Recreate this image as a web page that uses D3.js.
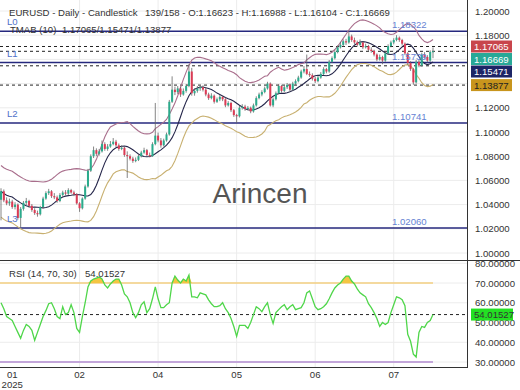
<!DOCTYPE html>
<html>
<head>
<meta charset="utf-8">
<script src="https://cdn.jsdelivr.net/npm/d3@7"></script>
<style>
body{margin:0;background:#fff;}
svg{display:block;font-family:"Liberation Sans",Arial,sans-serif;}
</style>
</head>
<body>
<div id="chart"></div>
<script>
// daily EURUSD candles
const openP = [1.0440,1.0510,1.0435,1.0410,1.0425,1.0380,1.0400,1.0290,1.0365,1.0415,
1.0430,1.0390,1.0355,1.0330,1.0320,1.0380,1.0450,1.0495,1.0510,1.0470,
1.0460,1.0430,1.0480,1.0500,1.0490,1.0520,1.0500,1.0485,1.0410,1.0370,
1.0450,1.0550,1.0680,1.0800,1.0850,1.0820,1.0840,1.0900,1.0860,1.0880,
1.0900,1.0920,1.0890,1.0860,1.0870,1.0810,1.0800,1.0780,1.0760,1.0770,
1.0800,1.0830,1.0850,1.0810,1.0800,1.0900,1.0970,1.0930,1.0890,1.0930,
1.0980,1.1250,1.1350,1.1330,1.1360,1.1310,1.1340,1.1380,1.1500,1.1320,
1.1340,1.1360,1.1370,1.1350,1.1310,1.1280,1.1300,1.1250,1.1270,1.1290,
1.1270,1.1220,1.1240,1.1180,1.1140,1.1130,1.1200,1.1210,1.1190,1.1200,
1.1170,1.1220,1.1280,1.1310,1.1330,1.1360,1.1400,1.1220,1.1270,1.1320,
1.1380,1.1340,1.1370,1.1390,1.1350,1.1400,1.1420,1.1450,1.1500,1.1520,
1.1480,1.1470,1.1440,1.1420,1.1450,1.1480,1.1520,1.1500,1.1580,1.1610,
1.1660,1.1700,1.1720,1.1750,1.1740,1.1790,1.1760,1.1740,1.1720,1.1740,
1.1700,1.1710,1.1680,1.1670,1.1640,1.1600,1.1620,1.1590,1.1650,1.1710,
1.1740,1.1760,1.1780,1.1760,1.1730,1.1650,1.1570,1.1520,1.1410,1.1580,
1.1550,1.1640,1.1620,1.1590,1.16623];
const highP = [1.0535,1.0525,1.0460,1.0450,1.0440,1.0420,1.0410,1.0380,1.0430,1.0455,
1.0440,1.0405,1.0370,1.0350,1.0390,1.0465,1.0510,1.0530,1.0520,1.0495,
1.0475,1.0495,1.0515,1.0520,1.0535,1.0530,1.0515,1.0495,1.0420,1.0460,
1.0565,1.0695,1.0815,1.0880,1.0865,1.0860,1.0930,1.0915,1.0900,1.0925,
1.0950,1.0935,1.0905,1.0890,1.0880,1.0840,1.0815,1.0795,1.0790,1.0815,
1.0845,1.0870,1.0860,1.0830,1.0915,1.1240,1.0995,1.0950,1.0945,1.0995,
1.1265,1.1460,1.1375,1.1380,1.1375,1.1360,1.1395,1.1560,1.1530,1.1360,
1.1380,1.1385,1.1385,1.1365,1.1325,1.1320,1.1310,1.1285,1.1305,1.1300,
1.1280,1.1255,1.1250,1.1190,1.1150,1.1215,1.1230,1.1225,1.1215,1.1210,
1.1235,1.1295,1.1325,1.1345,1.1375,1.1415,1.1410,1.1285,1.1335,1.1395,
1.1390,1.1385,1.1405,1.1400,1.1415,1.1435,1.1465,1.1515,1.1545,1.1640,
1.1500,1.1485,1.1455,1.1465,1.1495,1.1535,1.1530,1.1595,1.1625,1.1675,
1.1715,1.1745,1.1765,1.1770,1.1832,1.1805,1.1780,1.1755,1.1765,1.1750,
1.1730,1.1720,1.1700,1.1680,1.1650,1.1640,1.1630,1.1665,1.1725,1.1755,
1.1775,1.1800,1.1790,1.1770,1.1740,1.1660,1.1585,1.1530,1.1595,1.1600,
1.1655,1.1660,1.1635,1.1675,1.16988];
const lowP = [1.0270,1.0420,1.0395,1.0390,1.0365,1.0360,1.0275,1.0212,1.0350,1.0395,
1.0375,1.0340,1.0315,1.0300,1.0310,1.0370,1.0440,1.0480,1.0455,1.0445,
1.0415,1.0420,1.0465,1.0475,1.0480,1.0490,1.0470,1.0400,1.0340,1.0360,
1.0440,1.0540,1.0670,1.0785,1.0800,1.0805,1.0830,1.0845,1.0845,1.0870,
1.0890,1.0875,1.0845,1.0850,1.0795,1.0620,1.0765,1.0745,1.0750,1.0760,
1.0790,1.0820,1.0800,1.0790,1.0795,1.0890,1.0915,1.0870,1.0880,1.0920,
1.0970,1.1240,1.1305,1.1315,1.1290,1.1300,1.1325,1.1370,1.1300,1.1300,
1.1325,1.1340,1.1335,1.1295,1.1265,1.1270,1.1235,1.1240,1.1255,1.1255,
1.1205,1.1210,1.1165,1.1125,1.1074,1.1120,1.1185,1.1175,1.1180,1.1155,
1.1160,1.1210,1.1270,1.1295,1.1320,1.1350,1.1210,1.1205,1.1260,1.1310,
1.1325,1.1330,1.1355,1.1335,1.1340,1.1385,1.1410,1.1440,1.1485,1.1470,
1.1455,1.1425,1.1405,1.1410,1.1440,1.1470,1.1485,1.1490,1.1570,1.1600,
1.1650,1.1690,1.1705,1.1720,1.1730,1.1745,1.1725,1.1705,1.1710,1.1685,
1.1690,1.1665,1.1655,1.1625,1.1585,1.1590,1.1560,1.1580,1.1640,1.1700,
1.1725,1.1750,1.1745,1.1715,1.1635,1.1555,1.1505,1.1390,1.1400,1.1535,
1.1540,1.1605,1.1575,1.1580,1.16104];
const closeP = [1.0510,1.0435,1.0410,1.0425,1.0380,1.0400,1.0290,1.0365,1.0415,1.0430,
1.0390,1.0355,1.0330,1.0320,1.0380,1.0450,1.0495,1.0510,1.0470,1.0460,
1.0430,1.0480,1.0500,1.0490,1.0520,1.0500,1.0485,1.0410,1.0370,1.0450,
1.0550,1.0680,1.0800,1.0850,1.0820,1.0840,1.0900,1.0860,1.0880,1.0900,
1.0920,1.0890,1.0860,1.0870,1.0810,1.0800,1.0780,1.0760,1.0770,1.0800,
1.0830,1.0850,1.0810,1.0800,1.0900,1.0970,1.0930,1.0890,1.0930,1.0980,
1.1250,1.1350,1.1330,1.1360,1.1310,1.1340,1.1380,1.1500,1.1320,1.1340,
1.1360,1.1370,1.1350,1.1310,1.1280,1.1300,1.1250,1.1270,1.1290,1.1270,
1.1220,1.1240,1.1180,1.1140,1.1130,1.1200,1.1210,1.1190,1.1200,1.1170,
1.1220,1.1280,1.1310,1.1330,1.1360,1.1400,1.1220,1.1270,1.1320,1.1380,
1.1340,1.1370,1.1390,1.1350,1.1400,1.1420,1.1450,1.1500,1.1520,1.1480,
1.1470,1.1440,1.1420,1.1450,1.1480,1.1520,1.1500,1.1580,1.1610,1.1660,
1.1700,1.1720,1.1750,1.1740,1.1790,1.1760,1.1740,1.1720,1.1740,1.1700,
1.1710,1.1680,1.1670,1.1640,1.1600,1.1620,1.1590,1.1650,1.1710,1.1740,
1.1760,1.1780,1.1760,1.1730,1.1650,1.1570,1.1520,1.1410,1.1580,1.1550,
1.1640,1.1620,1.1590,1.1662,1.16669];
const rsiValues = [60,57,53,52,51,48,45,42,46,49,
48,46,41,45,49,53,56,59.5,60,57,
53,52,58,54,55,59,55,47,45,53,
60,68,71,72,72.5,73,72,69,67.5,69.5,
71,72,72,69,64.5,63,60,55,52.5,55,
59,60.5,55,57,62,68,62,57.5,57.5,59,
60,70,73.5,71.5,70,72,71,74,63,63,
62.5,65,64.5,64,61.5,59.5,58,58,58.5,60,
57,55,52,48,43,48.5,48.5,48.5,47,50,
54,58,57,55.5,58,60,54,49.5,55,56.5,
58,59,56.5,58,59,56.5,57,57.5,60,65,
66,62,58,56.5,57,58,59.5,62,65,67.5,
69,70,72,73.5,73.5,71,69.5,67,65,64,
63,59.5,57.5,55,52,48,50,49,50,55,
59,63,62.5,61.5,58.5,44,40.5,34,32.5,45,
48,47.5,50,51,54.01527];

const tickBars = [4, 28, 56, 84, 112, 140];
const tickLabels = ["01", "02", "04", "05", "06", "07"];
const priceTicks = [1.00, 1.02, 1.04, 1.06, 1.08, 1.10, 1.12, 1.14, 1.16, 1.18, 1.20];
const rsiTicks = [30, 40, 50, 60, 70, 80];
const levelNames = ["L0", "L1", "L2", "L3"];
const levelValues = [1.18322, 1.15739, 1.10741, 1.02060];
const tmaLast = [1.17065, 1.15471, 1.13877];
const lastClose = 1.16669;
const rsiLast = 54.01527;

const width = 520, height = 390;
const plotRight = 467, mainBottom = 260, rsiBottom = 367;
const N = closeP.length;

const svg = d3.select("#chart").append("svg")
  .attr("width", width).attr("height", height);
svg.append("rect").attr("width", width).attr("height", height).attr("fill", "#fff");

const defs = svg.append("defs");
defs.append("clipPath").attr("id", "mainClip")
  .append("rect").attr("x", 0).attr("y", 0).attr("width", plotRight).attr("height", mainBottom);
defs.append("clipPath").attr("id", "rsiClip")
  .append("rect").attr("x", 0).attr("y", mainBottom).attr("width", plotRight).attr("height", rsiBottom - mainBottom);
defs.append("clipPath").attr("id", "rsiAxisClip")
  .append("rect").attr("x", plotRight).attr("y", mainBottom + 1).attr("width", 60).attr("height", 130);

//scales
const x = d3.scaleBand().domain(d3.range(N)).range([0, 434]).paddingInner(0.28);
const xc = i => x(i) + x.bandwidth() / 2;
const y = d3.scaleLinear().domain([1.00, 1.20]).range([253, 11]);
const yR = d3.scaleLinear().domain([30, 70]).range([362, 283]);

//indicator: TMA (10) with ATR bands
function sma(arr, n) {
  return arr.map((_, i) => d3.mean(arr.slice(Math.max(0, i - n + 1), i + 1)));
}
const mid = sma(sma(closeP, 6), 5);
const tr = closeP.map((c, i) => i === 0 ? highP[0] - lowP[0]
  : Math.max(highP[i], closeP[i - 1]) - Math.min(lowP[i], closeP[i - 1]));
const atrLen = 40;
const atr = tr.map((_, i) => {
  const s = Math.max(0, i - atrLen + 1);
  return d3.mean(tr.slice(s, Math.max(i + 1, atrLen)));
});
const upper = mid.map((m, i) => m + 2.6 * atr[i]);
const lower = mid.map((m, i) => m - 2.6 * atr[i]);

//grid
const grid = svg.append("g").attr("stroke", "#ececec").attr("stroke-width", 1);
grid.selectAll(".hg").data(priceTicks).join("line")
  .attr("x1", 0).attr("x2", plotRight)
  .attr("y1", d => y(d)).attr("y2", d => y(d));
grid.append("g").attr("clip-path", "url(#rsiClip)")
  .selectAll("line").data(rsiTicks).join("line")
  .attr("x1", 0).attr("x2", plotRight)
  .attr("y1", d => yR(d)).attr("y2", d => yR(d));
grid.selectAll(".vg").data(tickBars.slice(1)).join("line")
  .attr("x1", d => xc(d)).attr("x2", d => xc(d))
  .attr("y1", 0).attr("y2", rsiBottom);

//watermark
svg.append("text").attr("x", 260).attr("y", 203)
  .attr("text-anchor", "middle").attr("font-size", 28)
  .attr("fill", "#555").text("Arincen");

const main = svg.append("g").attr("clip-path", "url(#mainClip)");

//levels
main.selectAll(".lvl").data(levelValues).join("line")
  .attr("x1", 0).attr("x2", plotRight)
  .attr("y1", d => y(d)).attr("y2", d => y(d))
  .attr("stroke", "#26287e").attr("stroke-width", 1.4);

//dashed value lines
main.selectAll(".dash").data([tmaLast[0], lastClose, tmaLast[1], tmaLast[2]]).join("line")
  .attr("x1", 0).attr("x2", plotRight)
  .attr("y1", d => y(d)).attr("y2", d => y(d))
  .attr("stroke", "#222").attr("stroke-width", 1).attr("stroke-dasharray", "3,3");

//bands
const bandLine = arr => d3.line().x((d, i) => xc(i)).y(d => y(d))(arr);
[[upper, "#a96e8c"], [mid, "#25264a"], [lower, "#c8b070"]].forEach(([arr, col]) => {
  main.append("path").attr("d", bandLine(arr))
    .attr("fill", "none").attr("stroke", col).attr("stroke-width", 1.1);
});

//candles
const candles = main.selectAll(".c").data(d3.range(N)).join("g");
candles.append("line")
  .attr("x1", i => xc(i)).attr("x2", i => xc(i))
  .attr("y1", i => y(highP[i])).attr("y2", i => y(lowP[i]))
  .attr("stroke", "#666").attr("stroke-width", 0.8);
candles.append("rect")
  .attr("x", i => x(i)).attr("width", x.bandwidth())
  .attr("y", i => y(Math.max(openP[i], closeP[i])))
  .attr("height", i => Math.max(1, Math.abs(y(openP[i]) - y(closeP[i]))))
  .attr("fill", i => closeP[i] >= openP[i] ? "#2bab8c" : "#dc3b55");

//level labels
svg.selectAll(".lname").data(levelValues).join("text")
  .attr("x", 7).attr("y", d => y(d) - 6)
  .attr("font-size", 9.6).attr("fill", "#5071c9")
  .text((d, i) => levelNames[i]);
svg.selectAll(".lval").data(levelValues).join("text")
  .attr("x", 392).attr("y", d => y(d) - 3)
  .attr("font-size", 9.6).attr("fill", "#6683d3")
  .text(d => d3.format(".5f")(d));

//RSI panel
const rsi = svg.append("g").attr("clip-path", "url(#rsiClip)");
rsi.append("line").attr("x1", 0).attr("x2", xc(N - 1))
  .attr("y1", yR(70)).attr("y2", yR(70)).attr("stroke", "#f3cf80").attr("stroke-width", 1.5);
rsi.append("line").attr("x1", 0).attr("x2", xc(N - 1))
  .attr("y1", yR(30)).attr("y2", yR(30)).attr("stroke", "#c3a6da").attr("stroke-width", 2);
rsi.append("path")
  .attr("d", d3.area().x((d, i) => xc(i)).y0(yR(70)).y1(d => yR(Math.max(d, 70)))(rsiValues))
  .attr("fill", "#f4c542");
rsi.append("line").attr("x1", 0).attr("x2", plotRight)
  .attr("y1", yR(rsiLast)).attr("y2", yR(rsiLast))
  .attr("stroke", "#222").attr("stroke-dasharray", "3,3");
rsi.append("path")
  .attr("d", d3.line().x((d, i) => xc(i)).y(d => yR(d))(rsiValues))
  .attr("fill", "none").attr("stroke", "#4fd64a").attr("stroke-width", 1.3);

//frame
svg.append("line").attr("x1", 0).attr("x2", width).attr("y1", mainBottom + 0.5).attr("y2", mainBottom + 0.5)
  .attr("stroke", "#333");
svg.append("line").attr("x1", 0).attr("x2", plotRight).attr("y1", rsiBottom + 0.5).attr("y2", rsiBottom + 0.5)
  .attr("stroke", "#333");
svg.append("line").attr("x1", plotRight + 0.5).attr("x2", plotRight + 0.5).attr("y1", 0).attr("y2", rsiBottom + 1)
  .attr("stroke", "#333");

//axes
const yAxis = svg.append("g").attr("transform", `translate(${plotRight},0)`)
  .call(d3.axisRight(y).tickValues(priceTicks).tickSize(0).tickPadding(8).tickFormat(d3.format(".5f")));
const rAxis = svg.append("g").attr("clip-path", "url(#rsiAxisClip)")
  .append("g").attr("transform", `translate(${plotRight},0)`)
  .call(d3.axisRight(yR).tickValues(rsiTicks).tickSize(0).tickPadding(8).tickFormat(d3.format(".5f")));
[yAxis, rAxis].forEach(a => {
  a.select(".domain").remove();
  a.selectAll("text").attr("font-size", 9.6).attr("fill", "#333")
    .attr("font-family", "Liberation Sans, Arial, sans-serif");
});

const xAxis = svg.append("g").attr("transform", `translate(0,${rsiBottom})`)
  .call(d3.axisBottom(x).tickValues(tickBars).tickSize(0).tickPadding(4)
    .tickFormat(i => tickLabels[tickBars.indexOf(i)]));
xAxis.select(".domain").remove();
xAxis.selectAll("text").attr("font-size", 9.6).attr("fill", "#333")
  .attr("font-family", "Liberation Sans, Arial, sans-serif");
svg.append("text").attr("x", xc(tickBars[0])).attr("y", 388)
  .attr("text-anchor", "middle").attr("font-size", 9.6).attr("fill", "#333").text("2025");

//value boxes on the axis
const boxes = [
  {v: tmaLast[0], fill: "#c8454c", color: "#fff"},
  {v: lastClose, fill: "#28a897", color: "#fff"},
  {v: tmaLast[1], fill: "#1d2566", color: "#fff"},
  {v: tmaLast[2], fill: "#c8951d", color: "#222"}
].sort((a, b) => y(a.v) - y(b.v));
let prev = -Infinity;
boxes.forEach(b => {
  b.cy = Math.max(y(b.v), prev + 12.5);
  prev = b.cy;
});
const bx = svg.selectAll(".box").data(boxes).join("g")
  .attr("transform", d => `translate(471,${d.cy})`);
bx.append("rect").attr("x", 0).attr("y", -6).attr("width", 41).attr("height", 12).attr("fill", d => d.fill);
bx.append("text").attr("x", 3).attr("y", 3.5).attr("font-size", 9.6)
  .attr("fill", d => d.color).text(d => d3.format(".5f")(d.v));

const rb = svg.append("g").attr("transform", `translate(471,${yR(rsiLast)})`);
rb.append("rect").attr("x", 0).attr("y", -6).attr("width", 42).attr("height", 12).attr("fill", "#23e023");
rb.append("text").attr("x", 3).attr("y", 3.5).attr("font-size", 9.6).attr("fill", "#333")
  .text(d3.format(".5f")(rsiLast));

//titles
const t = svg.append("g").attr("font-size", 9.6).attr("fill", "#333");
t.append("text").attr("x", 9).attr("y", 15.5).text("EURUSD - Daily - Candlestick");
t.append("text").attr("x", 145).attr("y", 15.5)
  .text(`139/158 - O:${openP[N - 1].toFixed(5)} - H:${highP[N - 1].toFixed(5)} - L:${lowP[N - 1].toFixed(5)} - C:${closeP[N - 1].toFixed(5)}`);
t.append("text").attr("x", 10).attr("y", 33).text("TMAB (10)");
t.append("text").attr("x", 62).attr("y", 33).text(tmaLast.map(d => d.toFixed(5)).join("/"));
t.append("text").attr("x", 9).attr("y", 277).text("RSI (14, 70, 30)");
t.append("text").attr("x", 85).attr("y", 277).text(rsiLast.toFixed(5));
</script>
</body>
</html>
